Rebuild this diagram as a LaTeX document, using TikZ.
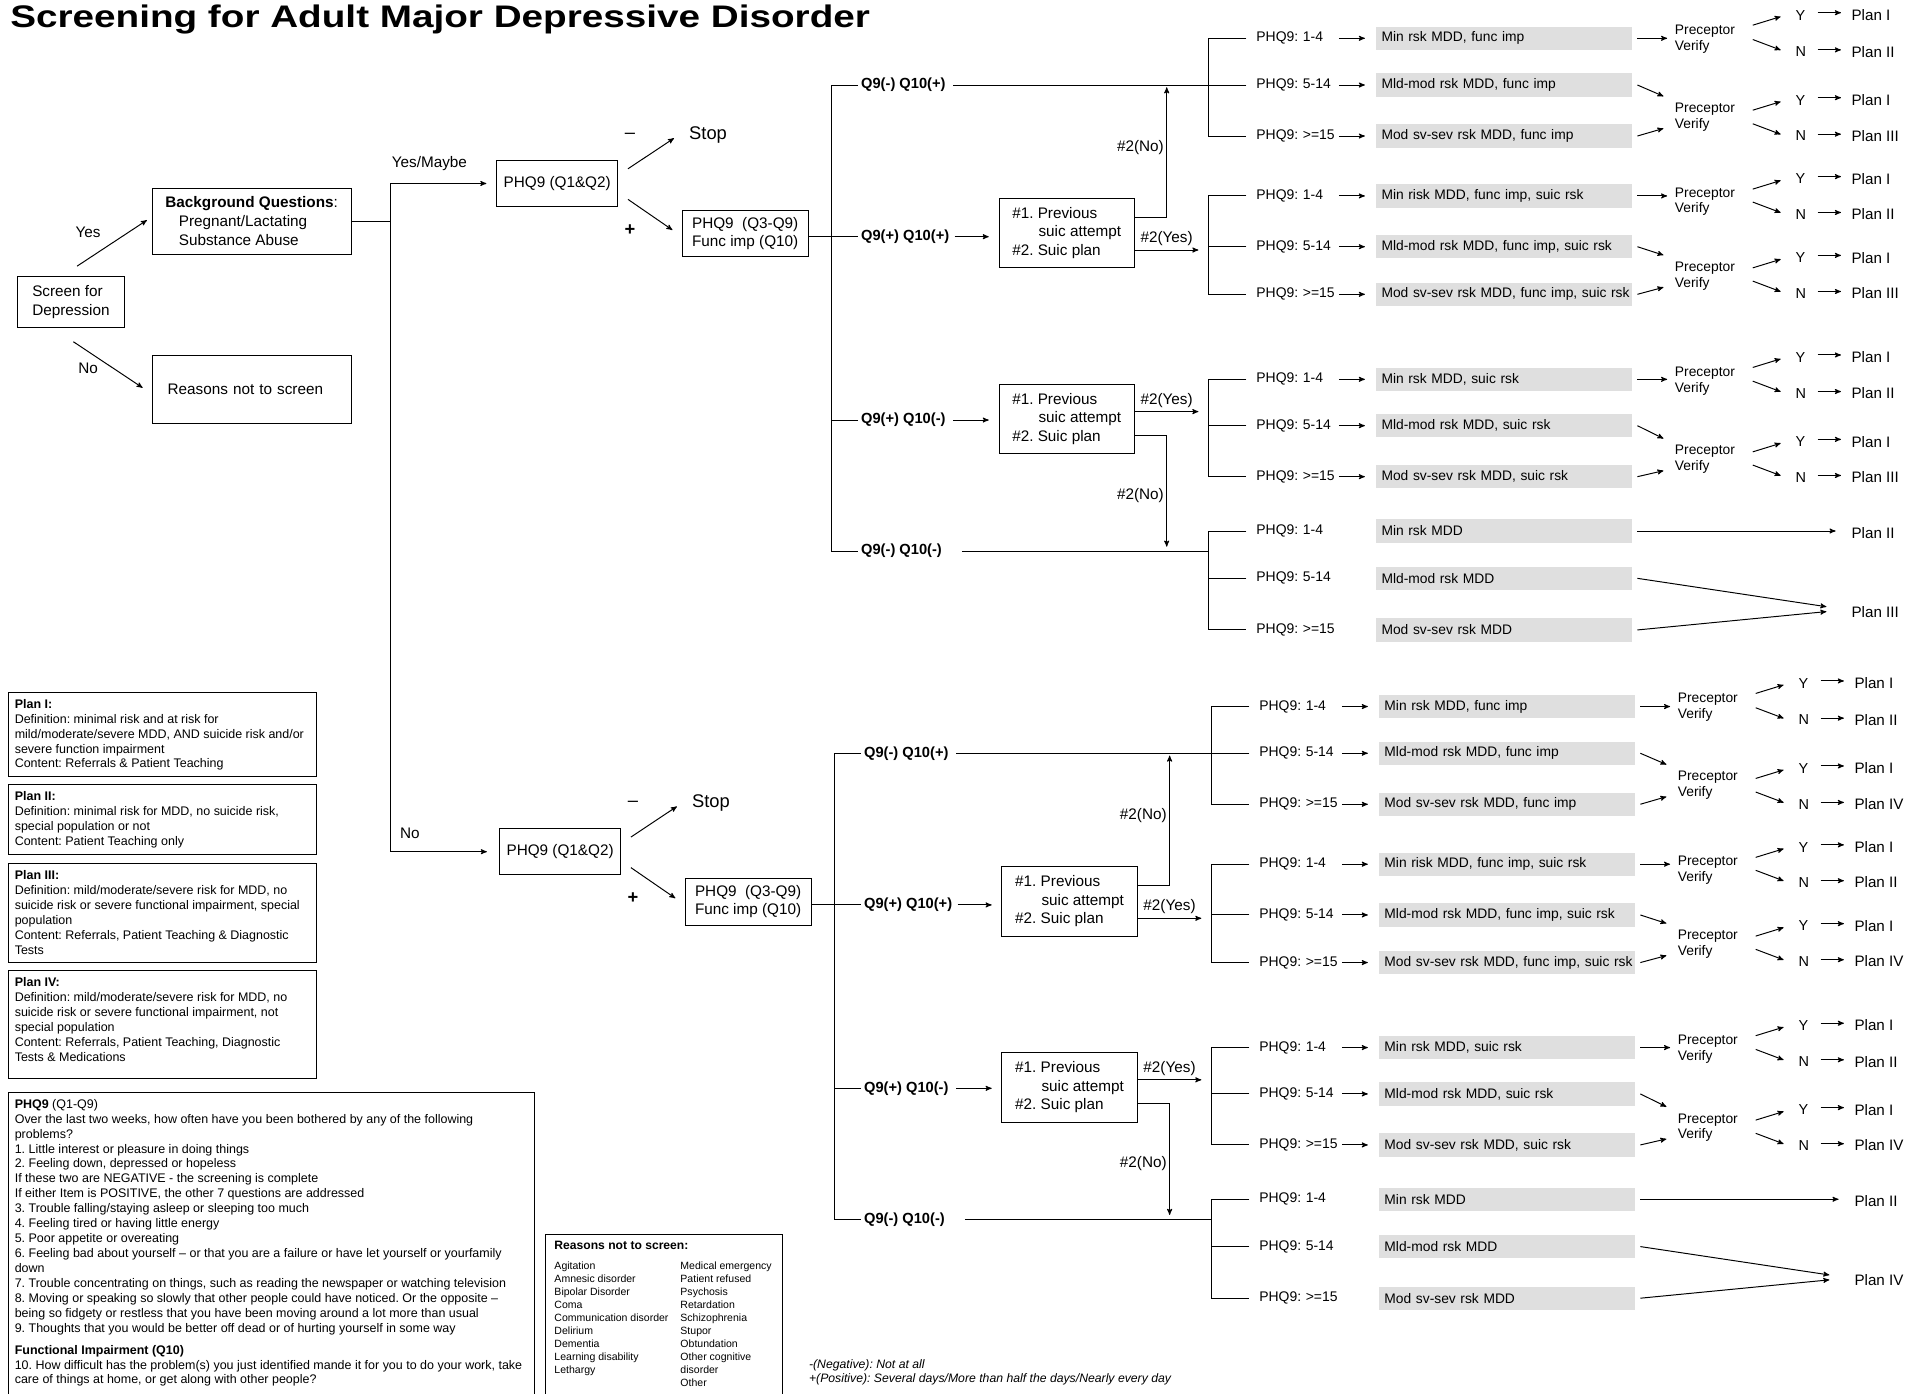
\documentclass[tikz,border=0pt]{standalone}
\usepackage{fontspec}
\setmainfont{Liberation Sans}
\usetikzlibrary{arrows}
\frenchspacing
\newcommand{\fsz}[2]{\fontsize{#1}{#2}\selectfont}

% one row of the result table: PHQ9 score and risk bar
\newcommand{\riskrow}[4]{%
  \node[phqrow] (#1p) at (1026.7,#2) {PHQ9: #3};
  \node[riskbox] (#1r) at (1124.8,#2) {\mbox{#4}};
}
% three rows with their bracket
\newcommand{\riskgroup}[7]{%
  \riskrow{#11}{#2}{1-4}{#5}
  \riskrow{#12}{#3}{5-14}{#6}
  \riskrow{#13}{#4}{>=15}{#7}
  \draw ([xshift=-7.7pt]#11p.west) -- ++(-31,0) coordinate (#1k) |- ([xshift=-7.7pt]#13p.west);
  \draw ([xshift=-7.7pt]#12p.west) -- ++(-31,0);
}
% preceptor check with its two plans
\newcommand{\verify}[6]{%
  \node[prec] (#1) at (1366.9,{#2+1.5}) {Preceptor\\Verify};
  \node[yn] (#1y) at (1465.6,#3) {Y};
  \node[yn] (#1n) at (1465.6,#4) {N};
  \node[plan] (#1yp) at (1511.3,#3) {Plan #5};
  \node[plan] (#1np) at (1511.3,#4) {Plan #6};
  \draw[->] ([shift={(-32.7,8.3)}]#1y.west) -- ([shift={(-9.9,1.3)}]#1y.west);
  \draw[->] ([shift={(-32.7,-10)}]#1n.west) -- ([shift={(-9.9,-1.4)}]#1n.west);
  \draw[->] ([shift={(7.7,-1.9)}]#1y.east) -- ([shift={(-6.3,-1.9)}]#1yp.west);
  \draw[->] ([shift={(7,-1.5)}]#1n.east) -- ([shift={(-6.3,-1.5)}]#1np.west);
}
% whole PHQ9 branch, #1 = plan without suicide risk
\newcommand{\phqtree}[1]{%
  \node[box, minimum width=99pt, minimum height=38pt] (phqa) at (455.5,150) {PHQ9 (Q1\&Q2)};
  \node[lbl, anchor=west, font=\fsz{15}{18}] (stop) at (561,110) {Stop};
  \node[lbl, font=\fsz{15}{18}] (minus) at (515,111) {\textendash};
  \node[lbl, font=\fsz{15}{18}\bfseries] (plus) at (515,188) {+};
  \node[box, align=left, minimum width=103pt, minimum height=38pt] (phqb) at (609.2,190.9) {PHQ9\ \ (Q3-Q9)\\Func imp (Q10)};
  \draw[->] ([shift={(8,-12)}]phqa.east) -- ([shift={(-10,3)}]stop.west);
  \draw[->] ([shift={(8,13)}]phqa.east) -- ([shift={(-7.6,-2.9)}]phqb.west);
  % Q9 / Q10 split
  \node[qlab] (qmp) at (701.6,69.5) {Q9(-) Q10(+)};
  \node[qlab] (qpp) at (701.6,193.5) {Q9(+) Q10(+)};
  \node[qlab] (qpm) at (701.6,343.4) {Q9(+) Q10(-)};
  \node[qlab] (qmm) at (701.6,450.5) {Q9(-) Q10(-)};
  \draw (qmp.west) -- ++(-21.6,0) |- (qmm.west);
  \draw (qpm.west) -- ++(-21.6,0);
  \draw (phqb.east |- qpp.west) -- (qpp.west);
  % suicide questions
  \node[box, align=left, minimum width=110.6pt, minimum height=57pt] (suica) at (872,190.5) {\#1. Previous\\\hspace*{21.5pt}suic attempt\\\#2. Suic plan};
  \node[box, align=left, minimum width=110.6pt, minimum height=57pt] (suicb) at (872,342.5) {\#1. Previous\\\hspace*{21.5pt}suic attempt\\\#2. Suic plan};
  \draw[->, shorten <=2pt, shorten >=8pt] (qpp.east) -- (qpp.east -| suica.west);
  \draw[->, shorten <=4pt, shorten >=8pt] (qpm.east) -- (qpm.east -| suicb.west);
  \coordinate (noa) at (953.8,71.4);
  \coordinate (yesa) at (979.7,204.4);
  \coordinate (nob) at (953.8,446.9);
  \coordinate (yesb) at (979.7,336.5);
  \draw[->] ([shift={(0,-12.8)}]suica.east) -| node[lbl, pos=0.77, left] (noalbl) {\#2(No)} (noa);
  \draw[->] (suica.east |- yesa) -- node[lbl, above, inner sep=3pt] (yesalbl) {\#2(Yes)} (yesa);
  \draw[->] ([shift={(0,13.7)}]suicb.east) -| node[lbl, pos=0.77, left] (noblbl) {\#2(No)} (nob);
  \draw[->] (suicb.east |- yesb) -- node[lbl, above, inner sep=3pt] (yesblbl) {\#2(Yes)} (yesb);
  % PHQ9 score groups
  \riskgroup{ga}{31.3}{69.5}{111.2}{Min rsk MDD, func imp}{Mld-mod rsk MDD, func imp}{Mod sv-sev rsk MDD, func imp}
  \riskgroup{gb}{160.2}{201.7}{240.6}{Min risk MDD, func imp, suic rsk}{Mld-mod rsk MDD, func imp, suic rsk}{Mod sv-sev rsk MDD, func imp, suic rsk}
  \riskgroup{gc}{310.1}{348}{389.7}{Min rsk MDD, suic rsk}{Mld-mod rsk MDD, suic rsk}{Mod sv-sev rsk MDD, suic rsk}
  \riskgroup{gd}{434.1}{472.8}{515}{Min rsk MDD}{Mld-mod rsk MDD}{Mod sv-sev rsk MDD}
  \draw ([xshift=4pt]qmp.east) -- ([xshift=-7.7pt]ga2p.west);
  \draw ([xshift=14pt]qmm.east) -- (qmm.east -| gdk);
  \foreach \g in {ga,gb,gc}{\foreach \n in {1,2,3}{\draw[->, shorten >=9pt] (\g\n p.east) -- (\g\n r.west);}}
  % preceptor checks
  \verify{va}{30.4}{12.3}{42.3}{I}{II}
  \verify{wa}{94.2}{81.8}{111.2}{I}{#1}
  \verify{vb}{163.5}{146.3}{175.2}{I}{II}
  \verify{wb}{224.1}{210.7}{239.8}{I}{#1}
  \verify{vc}{310}{292.1}{321.6}{I}{II}
  \verify{wc}{374}{361.1}{390.2}{I}{#1}
  \foreach \g/\v/\w in {ga/va/wa, gb/vb/wb, gc/vc/wc}{
    \draw[->, shorten <=4pt, shorten >=4pt] (\g1r.east) -- (\g1r.east -| \v.west);
    \draw[->] ([xshift=4pt]\g2r.east) -- ([shift={(-7,-17)}]\w.west);
    \draw[->] ([xshift=4pt]\g3r.east) -- ([shift={(-7,9.3)}]\w.west);
  }
  \node[plan] (pmin) at (1511.3,435.5) {Plan II};
  \node[plan] (pmod) at (1511.3,500) {Plan #1};
  \draw[->, shorten <=4pt, shorten >=10.7pt] (gd1r.east) -- (gd1r.east -| pmin.west);
  \draw[->] ([xshift=4pt]gd2r.east) -- ([shift={(-18.2,-4)}]pmod.west);
  \draw[->] ([xshift=4pt]gd3r.east) -- ([shift={(-18.2,0)}]pmod.west);
}

\begin{document}
\begin{tikzpicture}[x=1pt, y=-1pt, line width=0.8pt, >=stealth',
  box/.style={draw, font=\fsz{12.5}{15}, inner sep=2pt},
  lbl/.style={font=\fsz{12.5}{15}, inner sep=2pt},
  qlab/.style={font=\fsz{12}{14}\bfseries, anchor=west, inner sep=2pt},
  phqrow/.style={font=\fsz{11.4}{13}, anchor=west, inner sep=0pt, text width=67pt, align=left},
  riskbox/.style={fill=gray!25, font=\fsz{11.3}{13}, anchor=west, text width=200.6pt, align=left, inner xsep=4.2pt, inner ysep=0pt, minimum height=19pt},
  prec/.style={font=\fsz{11.3}{12.8}, anchor=west, align=left, inner sep=2pt},
  yn/.style={font=\fsz{11.8}{14}, anchor=west, inner sep=2pt},
  plan/.style={font=\fsz{12.4}{14}, anchor=west, inner sep=2pt},
  frame/.style={draw, anchor=north west, inner sep=0pt},
  info/.style={anchor=north west, inner sep=0pt, align=left, font=\fsz{10.2}{12.2}},
  note/.style={anchor=base west, inner sep=0pt, font=\fsz{10}{12}\itshape}]
\useasboundingbox (0,0) rectangle (1568,1139);
\clip (0,0) rectangle (1568,1139);

\node[anchor=base west, inner sep=0pt, font=\fsz{25.5}{30}\bfseries] (title) at (8,22.4) {\scalebox{1.24}[1]{Screening for Adult Major Depressive Disorder}};

% start of the screening
\node[box, align=left, minimum width=88pt, minimum height=42pt] (screen) at (58,247) {Screen for\\Depression};
\node[box, align=left, minimum width=162.5pt, minimum height=54pt, font=\fsz{12.5}{15.5}] (bg) at (205.75,181) {\textbf{Background Questions}:\\\hspace*{11pt}Pregnant/Lactating\\\hspace*{11pt}Substance Abuse};
\node[box, text width=137.5pt, inner xsep=12.5pt, minimum height=55pt] (reasons) at (205.75,318.5) {Reasons not to screen};
\node[lbl] (yes) at (72,190) {Yes};
\node[lbl] (no) at (72,301) {No};
\draw[->] ([shift={(5,-8)}]screen.north) -- ([shift={(-4,-1)}]bg.west);
\draw[->] ([shift={(2,11)}]screen.south) -- ([shift={(-7.5,-1.5)}]reasons.west);

\begin{scope}[name prefix=u-]
  \phqtree{III}
\end{scope}
\begin{scope}[shift={(2.4,546.3)}, name prefix=l-]
  \phqtree{IV}
\end{scope}

\coordinate (fork) at (319,181);
\draw (bg.east) -- (fork);
\draw (fork |- u-phqa.west) -- (fork |- l-phqa.west);
\draw[->, shorten >=8pt] (fork |- u-phqa.west) -- (u-phqa.west);
\draw[->, shorten >=10pt] (fork |- l-phqa.west) -- (l-phqa.west);
\node[lbl] (ymaybe) at (351,134) {Yes/Maybe};
\node[lbl] (nophq) at (335,681) {No};

% plan definitions
\node[frame, minimum width=251.6pt, minimum height=68.7pt] (plani) at (6.4,565.5) {};
\node[info] (planitxt) at ([shift={(5.3,5.7)}]plani.north west) {\textbf{Plan I:}\\Definition: minimal risk and at risk for\\mild/moderate/severe MDD, AND suicide risk and/or\\severe function impairment\\Content: Referrals \& Patient Teaching};
\node[frame, minimum width=251.6pt, minimum height=57.2pt] (planii) at (6.4,641.2) {};
\node[info] (planiitxt) at ([shift={(5.3,5.7)}]planii.north west) {\textbf{Plan II:}\\Definition: minimal risk for MDD, no suicide risk,\\special population or not\\Content: Patient Teaching only};
\node[frame, minimum width=251.6pt, minimum height=80.4pt] (planiii) at (6.4,705.8) {};
\node[info] (planiiitxt) at ([shift={(5.3,5.7)}]planiii.north west) {\textbf{Plan III:}\\Definition: mild/moderate/severe risk for MDD, no\\suicide risk or severe functional impairment, special\\population\\Content: Referrals, Patient Teaching \& Diagnostic\\Tests};
\node[frame, minimum width=251.6pt, minimum height=87.7pt] (planiv) at (6.4,793.3) {};
\node[info] (planivtxt) at ([shift={(5.3,5.7)}]planiv.north west) {\textbf{Plan IV:}\\Definition: mild/moderate/severe risk for MDD, no\\suicide risk or severe functional impairment, not\\special population\\Content: Referrals, Patient Teaching, Diagnostic\\Tests \& Medications};

% questionnaire
\node[frame, minimum width=430.1pt, minimum height=300pt] (phqbox) at (6.4,892.5) {};
\node[info] (phqtxt) at ([shift={(5.3,5.7)}]phqbox.north west) {\textbf{PHQ9} (Q1-Q9)\\
Over the last two weeks, how often have you been bothered by any of the following\\
problems?\\
1. Little interest or pleasure in doing things\\
2. Feeling down, depressed or hopeless\\
If these two are NEGATIVE - the screening is complete\\
If either Item is POSITIVE, the other 7 questions are addressed\\
3. Trouble falling/staying asleep or sleeping too much\\
4. Feeling tired or having little energy\\
5. Poor appetite or overeating\\
6. Feeling bad about yourself -- or that you are a failure or have let yourself or yourfamily\\
down\\
7. Trouble concentrating on things, such as reading the newspaper or watching television\\
8. Moving or speaking so slowly that other people could have noticed. Or the opposite --\\
being so fidgety or restless that you have been moving around a lot more than usual\\
9. Thoughts that you would be better off dead or of hurting yourself in some way\\[5.8pt]
\textbf{Functional Impairment (Q10)}\\
10. How difficult has the problem(s) you just identified mande it for you to do your work, take\\
care of things at home, or get along with other people?};

% reasons list
\node[frame, minimum width=193.7pt, minimum height=200pt] (reasonbox) at (445.9,1008.8) {};
\node[info, font=\fsz{8.6}{10.6}] (reasontxt) at ([shift={(7,5.4)}]reasonbox.north west) {{\fsz{9.9}{11}\bfseries Reasons not to screen:}\\[5.8pt]
\begin{tabular}[t]{@{}p{103pt}@{}l@{}}
Agitation & Medical emergency\\
Amnesic disorder & Patient refused\\
Bipolar Disorder & Psychosis\\
Coma & Retardation\\
Communication disorder & Schizophrenia\\
Delirium & Stupor\\
Dementia & Obtundation\\
Learning disability & Other cognitive\\
Lethargy & disorder\\
 & Other
\end{tabular}};

\node[note] (negnote) at (661,1118.5) {-(Negative): Not at all};
\node[note] (posnote) at (661,1130) {+(Positive): Several days/More than half the days/Nearly every day};
\end{tikzpicture}
\end{document}
